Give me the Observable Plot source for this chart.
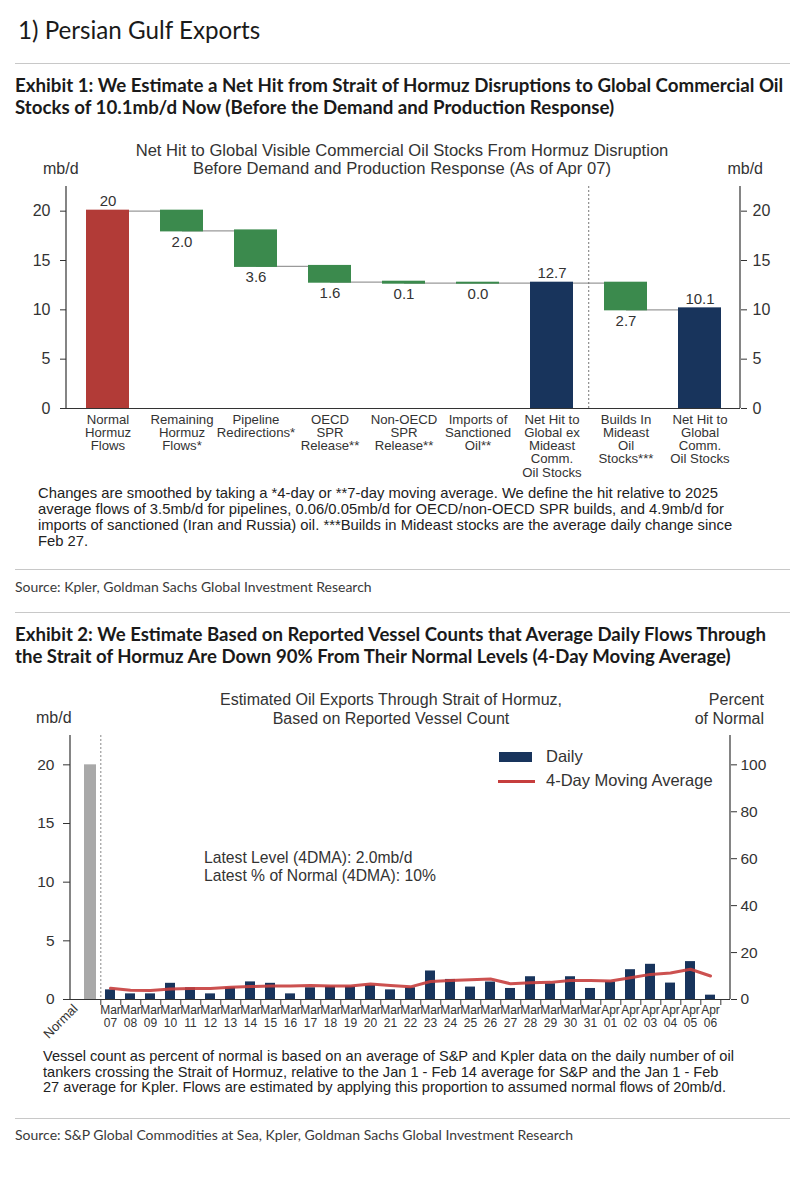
<!DOCTYPE html>
<html><head><meta charset="utf-8">
<script src="https://cdn.jsdelivr.net/npm/d3@7"></script>
<script src="https://cdn.jsdelivr.net/npm/@observablehq/plot@0.6"></script>
<style>
body{margin:0;background:#fff;}
#page{position:relative;width:809px;height:1200px;overflow:hidden;font-family:Lato,"Open Sans",sans-serif;color:#1a1a1a;background:#fff;}
.t{position:absolute;white-space:nowrap;}
.hr{position:absolute;left:15px;width:775px;height:0;border-top:1.5px solid #c8c8c8;}
.cf{font-family:"Liberation Sans",Arial,sans-serif;color:#333;}
.svgwrap{position:absolute;left:0;}
</style></head>
<body><div id="page"></div>
<script>
// ---------- Exhibit 1 data ----------
const ex1Categories = ["Normal Hormuz Flows","Remaining Hormuz Flows","Pipeline Redirections","OECD SPR Release","Non-OECD SPR Release","Imports of Sanctioned Oil","Net Hit to Global ex Mideast","Builds In Mideast Oil Stocks","Net Hit to Global Comm."];
const ex1TickLabels = ["Normal\nHormuz\nFlows","Remaining\nHormuz\nFlows*","Pipeline\nRedirections*","OECD\nSPR\nRelease**","Non-OECD\nSPR\nRelease**","Imports of\nSanctioned\nOil**","Net Hit to\nGlobal ex\nMideast\nComm.\nOil Stocks","Builds In\nMideast\nOil\nStocks***","Net Hit to\nGlobal\nComm.\nOil Stocks"];
const ex1Kinds = ["start","change","change","change","change","change","total","change","total"];
const ex1Values = [20, 2.0, 3.6, 1.6, 0.1, 0.0, 12.7, 2.7, 10.1];
const ex1ValueLabels = ["20","2.0","3.6","1.6","0.1","0.0","12.7","2.7","10.1"];
const ex1YTicks = [0,5,10,15,20];

// ---------- Exhibit 2 data ----------
const ex2Days = ["Mar 07","Mar 08","Mar 09","Mar 10","Mar 11","Mar 12","Mar 13","Mar 14","Mar 15","Mar 16","Mar 17","Mar 18","Mar 19","Mar 20","Mar 21","Mar 22","Mar 23","Mar 24","Mar 25","Mar 26","Mar 27","Mar 28","Mar 29","Mar 30","Mar 31","Apr 01","Apr 02","Apr 03","Apr 04","Apr 05","Apr 06"];
const ex2Daily = [0.82,0.48,0.48,1.38,1.0,0.48,1.0,1.5,1.38,0.48,1.0,1.1,1.1,1.2,0.82,1.0,2.43,1.71,1.06,1.49,0.94,1.94,1.34,1.94,0.94,1.49,2.54,3.0,1.4,3.23,0.37];
const ex2MA4 = [0.95,0.78,0.76,0.9,0.93,0.93,1.05,1.1,1.16,1.16,1.2,1.16,1.16,1.33,1.2,1.08,1.54,1.62,1.68,1.74,1.34,1.42,1.46,1.62,1.62,1.58,1.86,2.14,2.26,2.58,2.0];
const ex2NormalLabel = "Normal";
const ex2NormalValue = 20;
const ex2YTicks = [0,5,10,15,20];
const ex2PctTicks = [0,20,40,60,80,100];

const page = document.getElementById("page");
function txt(lines, x, y0, o = {}) {
  const fs = o.fs || 14, gap = o.gap || fs * 1.2;
  lines = [].concat(lines);
  const d = document.createElement("div");
  d.className = "t " + (o.cls || "");
  d.style.fontSize = fs + "px";
  d.style.lineHeight = gap + "px";
  if (o.weight) d.style.fontWeight = o.weight;
  if (o.color) d.style.color = o.color;
  if (o.ls) d.style.letterSpacing = o.ls;
  d.style.top = (y0 - gap / 2) + "px";
  if (o.align === "center") { d.style.left = x + "px"; d.style.transform = "translateX(-50%)"; d.style.textAlign = "center"; }
  else if (o.align === "right") { d.style.right = (809 - x) + "px"; d.style.textAlign = "right"; }
  else d.style.left = x + "px";
  d.innerHTML = lines.join("<br>");
  page.appendChild(d);
  return d;
}
function hr(y) { const d = document.createElement("div"); d.className = "hr"; d.style.top = y + "px"; page.appendChild(d); }
function box(x, y, w, h, c) { const d = document.createElement("div"); d.style.cssText = `position:absolute;left:${x}px;top:${y}px;width:${w}px;height:${h}px;background:${c}`; page.appendChild(d); }

// ---------- page text ----------
txt("1) Persian Gulf Exports", 18, 30, {fs: 24.2});
hr(63);
txt(["Exhibit 1: We Estimate a Net Hit from Strait of Hormuz Disruptions to Global Commercial Oil","Stocks of 10.1mb/d Now (Before the Demand and Production Response)"], 15, 85, {fs: 18.7, gap: 22, weight: 700});
txt(["Net Hit to Global Visible Commercial Oil Stocks From Hormuz Disruption","Before Demand and Production Response (As of Apr 07)"], 402, 151, {fs: 16.6, gap: 18.5, align: "center", cls: "cf"});
txt("mb/d", 43, 169, {fs: 16, cls: "cf"});
txt("mb/d", 763, 169, {fs: 16, cls: "cf", align: "right"});
txt(["Changes are smoothed by taking a *4-day or **7-day moving average. We define the hit relative to 2025","average flows of 3.5mb/d for pipelines, 0.06/0.05mb/d for OECD/non-OECD SPR builds, and 4.9mb/d for","imports of sanctioned (Iran and Russia) oil. ***Builds in Mideast stocks are the average daily change since","Feb 27."], 38, 493, {fs: 14.8, gap: 16, cls: "cf", color: "#222"});
hr(569);
txt("Source: Kpler, Goldman Sachs Global Investment Research", 15, 587, {fs: 14, color: "#3a3a3a"});
hr(612);
txt(["Exhibit 2: We Estimate Based on Reported Vessel Counts that Average Daily Flows Through","the Strait of Hormuz Are Down 90% From Their Normal Levels (4-Day Moving Average)"], 15, 634, {fs: 18.6, gap: 22, weight: 700});
txt(["Estimated Oil Exports Through Strait of Hormuz,","Based on Reported Vessel Count"], 391, 699, {fs: 16, gap: 19, align: "center", cls: "cf"});
txt("mb/d", 36, 718, {fs: 16, cls: "cf"});
txt(["Percent","of Normal"], 764, 699, {fs: 16, gap: 19, cls: "cf", align: "right"});
txt(["Vessel count as percent of normal is based on an average of S&amp;P and Kpler data on the daily number of oil","tankers crossing the Strait of Hormuz, relative to the Jan 1 - Feb 14 average for S&amp;P and the Jan 1 - Feb","27 average for Kpler. Flows are estimated by applying this proportion to assumed normal flows of 20mb/d."], 43, 1057, {fs: 14.6, gap: 15.5, cls: "cf", color: "#222"});
hr(1118);
txt("Source: S&amp;P Global Commodities at Sea, Kpler, Goldman Sachs Global Investment Research", 15, 1135, {fs: 14, color: "#3a3a3a"});

// ---------- helpers ----------
function axisLines(index, scales, values, dims) {
  const {width, height, marginLeft, marginRight, marginTop, marginBottom} = dims;
  const g = d3.create("svg:g").attr("stroke", "#333").attr("stroke-width", 1.2);
  g.append("line").attr("x1", marginLeft).attr("x2", marginLeft).attr("y1", marginTop).attr("y2", height - marginBottom);
  g.append("line").attr("x1", width - marginRight).attr("x2", width - marginRight).attr("y1", marginTop).attr("y2", height - marginBottom);
  return g.node();
}
const chartStyle = {fontFamily: "'Liberation Sans', Arial, sans-serif", fontSize: "16px", color: "#333", background: "transparent", overflow: "visible"};

// ---------- Exhibit 1 chart ----------
const colors1 = {start: "#b23b37", change: "#3b8a4d", total: "#18345c"};
let level = 0;
const rows1 = ex1Categories.map((c, i) => {
  const k = ex1Kinds[i], v = ex1Values[i];
  let y1, y2;
  if (k === "change") { y1 = level; y2 = level - v; level = y2; }
  else { y1 = 0; y2 = v; level = v; }
  return {cat: c, tick: ex1TickLabels[i], kind: k, y1, y2, end: y2, label: ex1ValueLabels[i]};
});
const links1 = rows1.slice(0, -1).map((r, i) => ({a: r.cat, b: rows1[i + 1].cat, y: r.end}));
const W = 809;
const m1 = {l: 66, r: 69, pi: 0.42, po: 0.23};
const step1 = (W - m1.l - m1.r) / (ex1Categories.length - m1.pi + 2 * m1.po);

const plot1 = Plot.plot({
  width: W, height: 300, marginLeft: m1.l, marginRight: m1.r, marginTop: 6, marginBottom: 72,
  style: chartStyle,
  x: {type: "band", domain: ex1Categories, paddingInner: m1.pi, paddingOuter: m1.po, axis: null},
  y: {domain: [0, 22.5], axis: null},
  marks: [
    Plot.link(links1, {x1: "a", x2: "b", y1: "y", y2: "y", stroke: "#9a9a9a", strokeWidth: 1.2}),
    Plot.ruleX([ex1Categories[7]], {x: d => d, dx: -step1 / 2, stroke: "#777", strokeDasharray: "2,2", strokeWidth: 1}),
    Plot.barY(rows1, {x: "cat", y1: "y1", y2: "y2", fill: d => colors1[d.kind], insetTop: -1, insetBottom: -1}),
    Plot.ruleY([0], {stroke: "#333", strokeWidth: 1.2}),
    axisLines,
    Plot.axisY({anchor: "left", ticks: ex1YTicks, tickSize: 6, tickPadding: 10, label: null, stroke: "#333"}),
    Plot.axisY({anchor: "right", ticks: ex1YTicks, tickSize: 6, tickPadding: 6, label: null, stroke: "#333"}),
    Plot.text(rows1.filter(d => d.kind !== "change"), {x: "cat", y: "y2", text: "label", dy: -10, fontSize: 15, fill: "#333"}),
    Plot.text(rows1.filter(d => d.kind === "change"), {x: "cat", y: "y2", text: "label", dy: 11, fontSize: 15, fill: "#333"}),
    Plot.text(rows1, {x: "cat", frameAnchor: "bottom", text: "tick", lineAnchor: "top", dy: 6, fontSize: 13.2, lineHeight: 1.0, fill: "#333"})
  ]
});
const w1 = document.createElement("div"); w1.className = "svgwrap"; w1.style.top = "180px"; w1.appendChild(plot1); page.appendChild(w1);

// ---------- Exhibit 2 chart ----------
const dom2 = [ex2NormalLabel, ...ex2Days];
const rows2 = ex2Days.map((d, i) => ({day: d, v: ex2Daily[i], ma: ex2MA4[i], tick: d.replace(" ", "\n")}));
const m2 = {l: 70, r: 79, pi: 0.5, po: 0.25};
const step2 = (W - m2.l - m2.r) / (dom2.length - m2.pi + 2 * m2.po);

const plot2 = Plot.plot({
  width: W, height: 330, marginLeft: m2.l, marginRight: m2.r, marginTop: 10, marginBottom: 56,
  style: {...chartStyle, fontSize: "15.5px"},
  x: {type: "band", domain: dom2, paddingInner: m2.pi, paddingOuter: m2.po, axis: null},
  y: {domain: [0, 22.5], axis: null},
  marks: [
    Plot.ruleX([ex2NormalLabel], {x: d => d, dx: step2 / 2, stroke: "#888", strokeDasharray: "2,2", strokeWidth: 1}),
    Plot.barY([{x: ex2NormalLabel, y: ex2NormalValue}], {x: "x", y: "y", fill: "#a9a9a9", insetLeft: -1, insetRight: -1}),
    Plot.barY(rows2, {x: "day", y: "v", fill: "#18345c"}),
    Plot.lineY(rows2, {x: "day", y: "ma", stroke: "#c63e3d", strokeWidth: 3, strokeOpacity: 0.9}),
    Plot.ruleY([0], {stroke: "#333", strokeWidth: 1.2}),
    axisLines,
    Plot.axisX({domain: dom2, tickSize: 6, tickFormat: () => "", dx: step2 / 2, stroke: "#333", label: null}),
    Plot.axisY({anchor: "left", ticks: ex2YTicks, tickSize: 7, tickPadding: 9, label: null, stroke: "#333"}),
    Plot.axisY({anchor: "right", ticks: ex2PctTicks.map(p => p / 100 * ex2NormalValue), tickFormat: d => Math.round(d / ex2NormalValue * 100), tickSize: 6, tickPadding: 4, label: null, stroke: "#333"}),
    Plot.text(rows2, {x: "day", frameAnchor: "bottom", text: "tick", lineAnchor: "top", dy: 5, fontSize: 12, lineHeight: 1.12, fill: "#333"}),
    Plot.text([ex2NormalLabel], {x: d => d, frameAnchor: "bottom", text: d => d, rotate: -45, textAnchor: "end", dx: -12, dy: 10, fontSize: 13, fill: "#333"})
  ]
});
const w2 = document.createElement("div"); w2.className = "svgwrap"; w2.style.top = "725px"; w2.appendChild(plot2); page.appendChild(w2);

// legend + annotation for exhibit 2
box(499, 752, 33, 10, "#18345c");
box(498, 779.5, 37, 3, "#c63e3d");
txt("Daily", 546, 757, {fs: 16.5, cls: "cf"});
txt("4-Day Moving Average", 546, 781, {fs: 16.5, cls: "cf"});
txt(["Latest Level (4DMA): " + ex2MA4[ex2MA4.length - 1].toFixed(1) + "mb/d", "Latest % of Normal (4DMA): " + Math.round(ex2MA4[ex2MA4.length - 1] / ex2NormalValue * 100) + "%"], 204, 858, {fs: 15.7, gap: 18.5, cls: "cf"});
</script>
</body></html>
